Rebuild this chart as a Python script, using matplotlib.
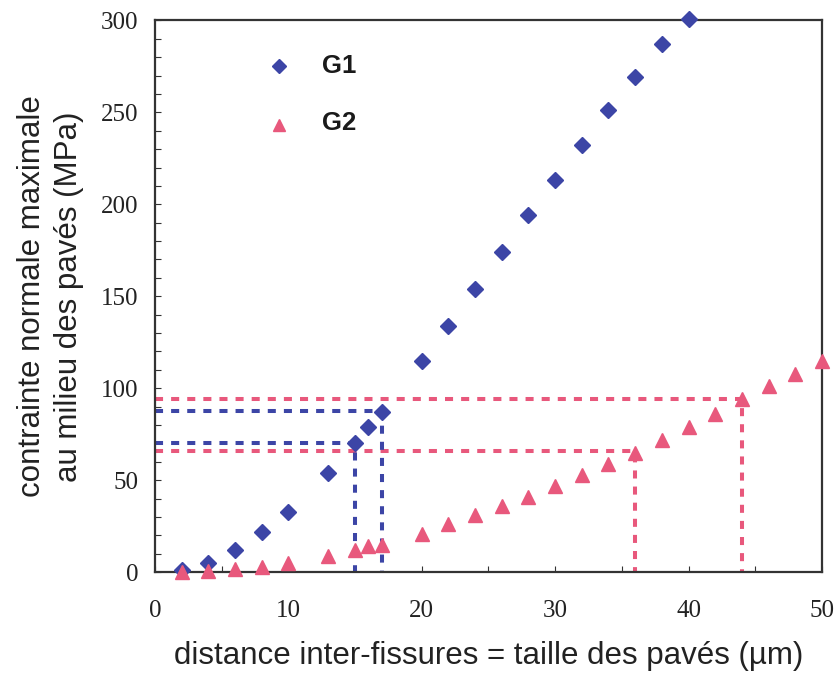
import numpy as np
import matplotlib
matplotlib.use("Agg")
import matplotlib.pyplot as plt
from matplotlib.ticker import MultipleLocator

# G1 (diamonds) and G2 (triangles), stress vs crack spacing
x_g1 = [2, 4, 6, 8, 10, 13, 15, 16, 17, 20, 22, 24, 26, 28, 30, 32, 34, 36, 38, 40]
y_g1 = [1, 5, 12, 22, 33, 54, 70, 79, 87, 115, 134, 154, 174, 194, 213, 232, 251, 269, 287, 301]

x_g2 = [2, 4, 6, 8, 10, 13, 15, 16, 17, 20, 22, 24, 26, 28, 30, 32, 34, 36,
        38, 40, 42, 44, 46, 48, 50]
y_g2 = [0, 0.5, 1.5, 3, 5, 9, 12, 14, 15, 21, 26, 31, 36, 41, 47, 53, 59, 65,
        72, 79, 86, 94, 101, 108, 115]

# reading lines (x where it crosses, stress level)
g1_marks = [(15, 70), (17, 87.5)]
g2_marks = [(36, 66), (44, 94)]

blue = "#3c45a6"
pink = "#e8587c"
frame = "#333333"

fig = plt.figure(figsize=(8.37, 6.78), dpi=100)
ax = fig.add_axes([0.185, 0.156, 0.797, 0.814])

dash = (0, (2.0, 2.0))
for xm, ym in g2_marks:
    ax.plot([0, xm, xm], [ym, ym, 0], color=pink, lw=2.9, ls=dash, zorder=2)
for xm, ym in g1_marks:
    ax.plot([0, xm, xm], [ym, ym, 0], color=blue, lw=2.9, ls=dash, zorder=2)

ax.plot(x_g1, y_g1, ls="none", marker="D", ms=8, color=blue, zorder=3, clip_on=False)
ax.plot(x_g2, y_g2, ls="none", marker="^", ms=9.5, color=pink, zorder=4, clip_on=False)

# legend drawn as in the original figure
ax.plot([9.3], [275], ls="none", marker="D", ms=7, color=blue)
ax.plot([9.3], [243], ls="none", marker="^", ms=8.5, color=pink)
ax.text(12.5, 275, "G1", fontsize=18.5, fontweight="bold", family="Liberation Sans",
        va="center", color="#1a1a1a")
ax.text(12.5, 244, "G2", fontsize=18.5, fontweight="bold", family="Liberation Sans",
        va="center", color="#1a1a1a")

ax.set_xlim(0, 50)
ax.set_ylim(0, 300)
ax.xaxis.set_major_locator(MultipleLocator(10))
ax.xaxis.set_minor_locator(MultipleLocator(5))
ax.yaxis.set_major_locator(MultipleLocator(50))
ax.yaxis.set_minor_locator(MultipleLocator(10))
ax.tick_params(which="both", direction="in", color=frame, top=False, right=False)
ax.tick_params(which="both", length=4, width=0.8)
ax.tick_params(axis="both", labelsize=18, labelcolor="#222222")
ax.tick_params(axis="x", pad=20)
ax.tick_params(axis="y", pad=12)
for lab in ax.get_xticklabels() + ax.get_yticklabels():
    lab.set_family("Liberation Serif")
for s in ax.spines.values():
    s.set_color(frame)
    s.set_linewidth(1.6)

ax.set_xlabel("distance inter-fissures = taille des pavés (µm)", fontsize=22.5,
              family="Liberation Sans", labelpad=14, color="#222222")
ax.set_ylabel("contrainte normale maximale\nau milieu des pavés (MPa)", fontsize=22.5,
              family="Liberation Sans", labelpad=12, color="#222222", linespacing=1.3)

fig.savefig("out.png", dpi=100)
